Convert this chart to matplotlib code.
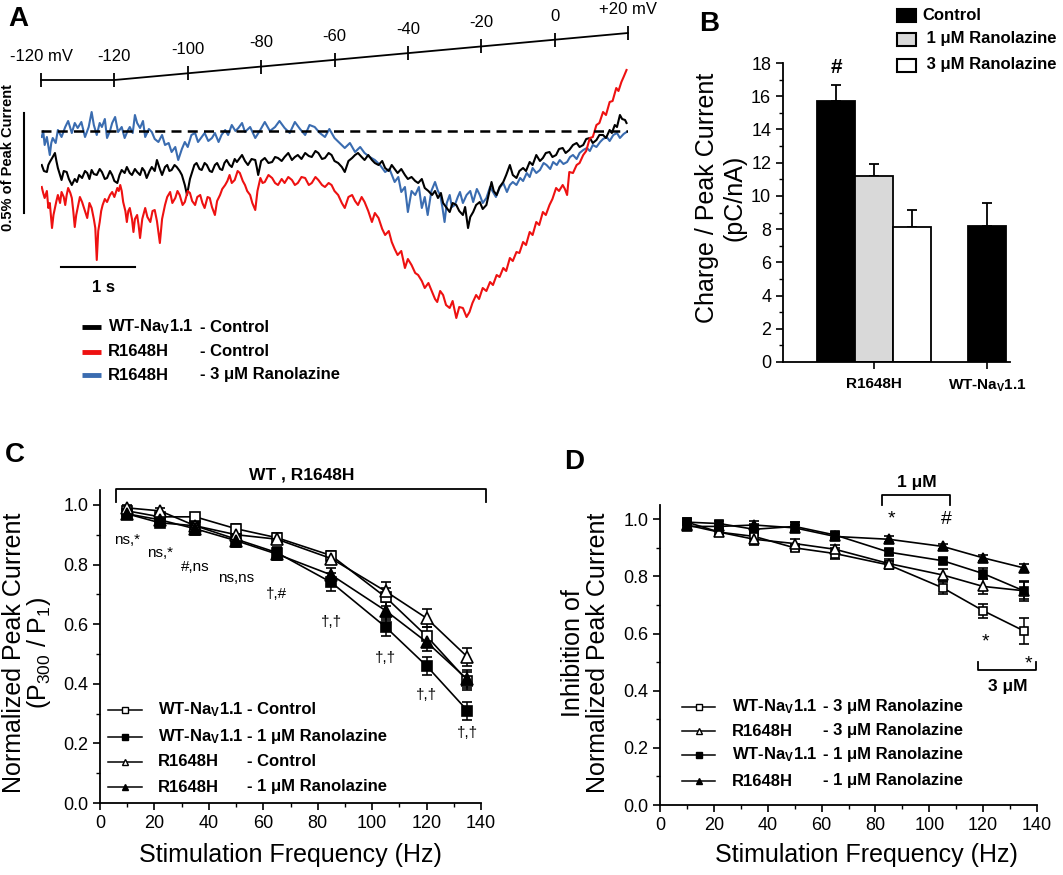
import matplotlib
matplotlib.use("Agg")
import matplotlib.pyplot as plt
from matplotlib.patches import Rectangle
from matplotlib.ticker import MultipleLocator, FormatStrFormatter

plt.rcParams['font.family'] = ['Liberation Sans', 'DejaVu Sans']
plt.rcParams['mathtext.fontset'] = 'custom'
plt.rcParams['mathtext.rm'] = 'Liberation Sans'
plt.rcParams['mathtext.bf'] = 'Liberation Sans:bold'
plt.rcParams['mathtext.it'] = 'Liberation Sans:italic'

# ---------------- data ----------------
# A: ramp protocol (time s, mV)
ramp_t = [0, 1, 2, 3, 4, 5, 6, 7, 8]
ramp_v = [-120, -120, -100, -80, -60, -40, -20, 0, 20]
ramp_lbl = ['-120 mV', '-120', '-100', '-80', '-60', '-40', '-20', '0', '+20 mV']

# A: late current traces (% of peak current)
blue_t = [0.01, 0.03, 0.05, 0.08, 0.12, 0.14, 0.16, 0.2, 0.23, 0.28, 0.33, 0.37, 0.42, 0.46,
          0.5, 0.55, 0.6, 0.65, 0.69, 0.72, 0.76, 0.8, 0.83, 0.87, 0.9, 0.94, 0.97, 1.01,
          1.05, 1.1, 1.14, 1.18, 1.21, 1.25, 1.28, 1.31, 1.35, 1.39, 1.42, 1.47, 1.51, 1.55,
          1.6, 1.65, 1.69, 1.74, 1.78, 1.83, 1.87, 1.92, 1.96, 2.0, 2.05, 2.1, 2.14, 2.19,
          2.23, 2.28, 2.33, 2.37, 2.42, 2.46, 2.51, 2.55, 2.6, 2.65, 2.69, 2.74, 2.78, 2.85,
          2.92, 2.98, 3.05, 3.12, 3.19, 3.25, 3.32, 3.39, 3.46, 3.53, 3.6, 3.66, 3.73, 3.8,
          3.87, 3.93, 4.0, 4.07, 4.14, 4.21, 4.28, 4.35, 4.41, 4.48, 4.55, 4.62, 4.69, 4.75,
          4.82, 4.87, 4.91, 4.96, 5.0, 5.05, 5.1, 5.15, 5.19, 5.23, 5.27, 5.32, 5.37, 5.41,
          5.44, 5.47, 5.5, 5.53, 5.57, 5.6, 5.64, 5.68, 5.71, 5.75, 5.8, 5.85, 5.89, 5.94,
          5.98, 6.02, 6.07, 6.12, 6.16, 6.2, 6.25, 6.3, 6.35, 6.39, 6.43, 6.48, 6.53, 6.57,
          6.62, 6.66, 6.7, 6.75, 6.8, 6.85, 6.89, 6.94, 6.98, 7.03, 7.07, 7.12, 7.17, 7.21,
          7.25, 7.3, 7.34, 7.39, 7.44, 7.48, 7.52, 7.57, 7.62, 7.66, 7.71, 7.75, 7.8, 7.85,
          7.89, 7.94, 7.98]
blue_y = [-0.03, 0.0, -0.07, -0.03, -0.12, -0.06, -0.035, -0.06, 0.005, -0.03, 0.02, 0.05,
          -0.01, 0.04, 0.015, 0.045, -0.03, 0.02, 0.095, 0.03, -0.02, 0.04, 0.02, 0.06,
          -0.035, 0.0, 0.04, 0.07, -0.005, 0.02, -0.035, 0.0, 0.02, -0.01, 0.08, 0.04, 0.015,
          0.05, -0.03, 0.01, -0.005, -0.04, -0.055, -0.02, -0.07, -0.06, -0.105, -0.08,
          -0.145, -0.09, -0.055, -0.08, -0.02, -0.01, -0.055, -0.03, -0.01, -0.05, -0.035,
          -0.01, -0.055, -0.02, 0.005, -0.02, 0.03, 0.0, 0.015, 0.04, -0.005, 0.02, -0.035,
          0.0, 0.045, 0.0, 0.02, 0.05, 0.015, -0.01, 0.045, 0.01, -0.02, 0.03, 0.02, -0.01,
          -0.03, 0.01, -0.035, -0.06, -0.085, -0.06, -0.105, -0.08, -0.11, -0.13, -0.145,
          -0.17, -0.205, -0.19, -0.255, -0.23, -0.305, -0.28, -0.405, -0.3, -0.32, -0.28,
          -0.385, -0.33, -0.42, -0.3, -0.255, -0.3, -0.32, -0.38, -0.455, -0.36, -0.32,
          -0.38, -0.37, -0.33, -0.305, -0.36, -0.32, -0.3, -0.355, -0.29, -0.32, -0.36,
          -0.335, -0.28, -0.305, -0.33, -0.285, -0.26, -0.305, -0.27, -0.255, -0.27, -0.235,
          -0.25, -0.21, -0.23, -0.185, -0.21, -0.195, -0.16, -0.17, -0.19, -0.155, -0.17,
          -0.145, -0.165, -0.155, -0.13, -0.12, -0.14, -0.11, -0.095, -0.085, -0.1, -0.07,
          -0.08, -0.055, -0.04, -0.03, -0.05, -0.02, -0.01, -0.035, -0.015, -0.005]

black_t = [0.01, 0.04, 0.08, 0.1, 0.12, 0.16, 0.19, 0.21, 0.23, 0.26, 0.28, 0.31, 0.35, 0.38,
           0.42, 0.46, 0.49, 0.52, 0.56, 0.6, 0.63, 0.66, 0.69, 0.72, 0.76, 0.8, 0.83, 0.87,
           0.9, 0.94, 0.97, 1.0, 1.04, 1.07, 1.1, 1.14, 1.17, 1.21, 1.24, 1.28, 1.31, 1.35,
           1.38, 1.41, 1.44, 1.48, 1.51, 1.55, 1.58, 1.62, 1.65, 1.69, 1.72, 1.75, 1.78, 1.82,
           1.85, 1.89, 1.92, 1.96, 1.99, 2.03, 2.06, 2.09, 2.12, 2.16, 2.19, 2.23, 2.26, 2.3,
           2.33, 2.37, 2.4, 2.44, 2.47, 2.5, 2.53, 2.57, 2.6, 2.64, 2.67, 2.7, 2.74, 2.78,
           2.82, 2.87, 2.92, 2.94, 2.96, 3.0, 3.05, 3.1, 3.15, 3.19, 3.23, 3.28, 3.32, 3.37,
           3.42, 3.46, 3.5, 3.55, 3.6, 3.65, 3.69, 3.74, 3.78, 3.83, 3.87, 3.92, 3.96, 4.0,
           4.05, 4.1, 4.14, 4.19, 4.24, 4.28, 4.32, 4.37, 4.41, 4.46, 4.51, 4.55, 4.6, 4.65,
           4.69, 4.74, 4.78, 4.82, 4.86, 4.91, 4.96, 5.0, 5.05, 5.1, 5.14, 5.19, 5.23, 5.28,
           5.33, 5.37, 5.41, 5.45, 5.48, 5.52, 5.57, 5.61, 5.66, 5.7, 5.75, 5.78, 5.82, 5.85,
           5.89, 5.93, 5.98, 6.02, 6.07, 6.1, 6.14, 6.17, 6.21, 6.25, 6.3, 6.34, 6.39, 6.43,
           6.48, 6.52, 6.57, 6.61, 6.66, 6.7, 6.75, 6.8, 6.84, 6.88, 6.93, 6.97, 7.02, 7.06,
           7.11, 7.15, 7.2, 7.25, 7.3, 7.34, 7.39, 7.43, 7.48, 7.52, 7.57, 7.61, 7.66, 7.7,
           7.75, 7.78, 7.82, 7.85, 7.89, 7.92, 7.96, 7.98]
black_y = [-0.17, -0.2, -0.205, -0.17, -0.155, -0.13, -0.11, -0.15, -0.185, -0.22, -0.245,
           -0.2, -0.205, -0.24, -0.27, -0.24, -0.255, -0.22, -0.235, -0.2, -0.21, -0.24,
           -0.195, -0.215, -0.22, -0.19, -0.205, -0.24, -0.235, -0.2, -0.22, -0.25, -0.26,
           -0.22, -0.195, -0.21, -0.18, -0.21, -0.22, -0.19, -0.205, -0.22, -0.185, -0.2,
           -0.235, -0.2, -0.18, -0.2, -0.145, -0.19, -0.22, -0.18, -0.17, -0.2, -0.195,
           -0.17, -0.18, -0.2, -0.22, -0.27, -0.32, -0.24, -0.205, -0.17, -0.16, -0.19,
           -0.195, -0.16, -0.17, -0.2, -0.205, -0.17, -0.16, -0.19, -0.195, -0.16, -0.145,
           -0.17, -0.18, -0.14, -0.155, -0.14, -0.12, -0.15, -0.17, -0.14, -0.145, -0.18,
           -0.22, -0.15, -0.135, -0.16, -0.155, -0.13, -0.135, -0.15, -0.13, -0.11, -0.145,
           -0.13, -0.12, -0.14, -0.11, -0.125, -0.13, -0.1, -0.11, -0.14, -0.135, -0.11,
           -0.12, -0.15, -0.16, -0.18, -0.205, -0.15, -0.135, -0.12, -0.11, -0.13, -0.145,
           -0.12, -0.145, -0.16, -0.17, -0.15, -0.185, -0.2, -0.17, -0.19, -0.21, -0.19,
           -0.22, -0.24, -0.23, -0.25, -0.26, -0.24, -0.285, -0.3, -0.32, -0.3, -0.335, -0.31,
           -0.36, -0.38, -0.405, -0.36, -0.37, -0.4, -0.42, -0.38, -0.485, -0.43, -0.405,
           -0.37, -0.355, -0.39, -0.37, -0.32, -0.255, -0.3, -0.32, -0.28, -0.255, -0.22,
           -0.17, -0.22, -0.235, -0.2, -0.185, -0.2, -0.155, -0.17, -0.12, -0.15, -0.135,
           -0.11, -0.105, -0.13, -0.12, -0.09, -0.085, -0.11, -0.095, -0.07, -0.06, -0.08,
           -0.07, -0.04, -0.035, -0.06, -0.045, -0.02, -0.02, -0.035, 0.005, -0.01, 0.03,
           0.02, 0.08, 0.06, 0.055, 0.04]

red_t = [0.01, 0.03, 0.05, 0.08, 0.1, 0.12, 0.15, 0.17, 0.19, 0.21, 0.23, 0.26, 0.28, 0.31,
         0.33, 0.35, 0.37, 0.4, 0.42, 0.44, 0.46, 0.48, 0.5, 0.53, 0.56, 0.6, 0.63, 0.66,
         0.69, 0.72, 0.74, 0.76, 0.78, 0.8, 0.82, 0.84, 0.87, 0.9, 0.94, 0.97, 1.0, 1.04,
         1.06, 1.08, 1.1, 1.12, 1.15, 1.17, 1.19, 1.21, 1.24, 1.26, 1.28, 1.31, 1.33, 1.35,
         1.38, 1.42, 1.45, 1.49, 1.52, 1.55, 1.58, 1.62, 1.65, 1.69, 1.72, 1.76, 1.79, 1.83,
         1.86, 1.89, 1.93, 1.96, 2.0, 2.03, 2.06, 2.1, 2.13, 2.17, 2.2, 2.23, 2.27, 2.3,
         2.33, 2.37, 2.4, 2.44, 2.47, 2.51, 2.54, 2.57, 2.6, 2.64, 2.68, 2.71, 2.75, 2.78,
         2.81, 2.85, 2.88, 2.92, 2.95, 2.99, 3.02, 3.05, 3.1, 3.15, 3.19, 3.23, 3.28, 3.32,
         3.37, 3.42, 3.46, 3.5, 3.55, 3.6, 3.65, 3.69, 3.74, 3.78, 3.83, 3.87, 3.92, 3.96,
         4.0, 4.05, 4.1, 4.14, 4.19, 4.24, 4.28, 4.32, 4.37, 4.41, 4.46, 4.51, 4.55, 4.6,
         4.65, 4.69, 4.74, 4.78, 4.82, 4.86, 4.91, 4.96, 5.0, 5.05, 5.1, 5.14, 5.19, 5.23,
         5.28, 5.33, 5.37, 5.4, 5.44, 5.48, 5.52, 5.57, 5.61, 5.66, 5.7, 5.75, 5.8, 5.84,
         5.88, 5.93, 5.97, 6.02, 6.07, 6.12, 6.16, 6.21, 6.25, 6.3, 6.34, 6.39, 6.43, 6.48,
         6.52, 6.57, 6.61, 6.66, 6.7, 6.75, 6.79, 6.84, 6.88, 6.93, 6.97, 7.02, 7.06, 7.11,
         7.14, 7.17, 7.2, 7.25, 7.3, 7.34, 7.39, 7.43, 7.48, 7.52, 7.57, 7.61, 7.66, 7.7,
         7.75, 7.79, 7.84, 7.87, 7.91, 7.94, 7.98]
red_y = [-0.28, -0.31, -0.335, -0.3, -0.385, -0.36, -0.485, -0.42, -0.385, -0.35, -0.32,
         -0.36, -0.305, -0.33, -0.37, -0.32, -0.285, -0.31, -0.335, -0.4, -0.48, -0.42,
         -0.385, -0.33, -0.355, -0.4, -0.435, -0.36, -0.385, -0.44, -0.485, -0.645, -0.5,
         -0.455, -0.4, -0.37, -0.34, -0.355, -0.32, -0.305, -0.33, -0.285, -0.3, -0.27,
         -0.3, -0.355, -0.4, -0.455, -0.4, -0.385, -0.44, -0.505, -0.44, -0.42, -0.47,
         -0.535, -0.44, -0.385, -0.43, -0.455, -0.4, -0.395, -0.45, -0.56, -0.44, -0.37,
         -0.33, -0.305, -0.36, -0.335, -0.3, -0.32, -0.37, -0.355, -0.3, -0.31, -0.35,
         -0.37, -0.33, -0.32, -0.36, -0.385, -0.33, -0.335, -0.38, -0.42, -0.35, -0.32,
         -0.29, -0.27, -0.25, -0.22, -0.26, -0.245, -0.2, -0.21, -0.25, -0.27, -0.3, -0.32,
         -0.36, -0.395, -0.3, -0.235, -0.26, -0.255, -0.22, -0.235, -0.26, -0.27, -0.24,
         -0.26, -0.23, -0.245, -0.27, -0.26, -0.23, -0.235, -0.27, -0.26, -0.23, -0.245,
         -0.27, -0.28, -0.26, -0.27, -0.3, -0.32, -0.36, -0.385, -0.33, -0.32, -0.35, -0.37,
         -0.33, -0.355, -0.4, -0.455, -0.41, -0.435, -0.49, -0.52, -0.5, -0.555, -0.59,
         -0.62, -0.6, -0.685, -0.64, -0.67, -0.71, -0.72, -0.75, -0.785, -0.76, -0.805,
         -0.84, -0.855, -0.8, -0.82, -0.87, -0.885, -0.85, -0.935, -0.88, -0.885, -0.93,
         -0.905, -0.86, -0.82, -0.84, -0.785, -0.8, -0.755, -0.77, -0.72, -0.73, -0.685,
         -0.7, -0.635, -0.65, -0.605, -0.61, -0.555, -0.57, -0.505, -0.52, -0.455, -0.47,
         -0.405, -0.42, -0.37, -0.34, -0.285, -0.3, -0.27, -0.29, -0.32, -0.205, -0.21,
         -0.17, -0.16, -0.12, -0.1, -0.035, -0.03, 0.03, 0.04, 0.095, 0.08, 0.145, 0.15,
         0.215, 0.2, 0.245, 0.27, 0.305]

# B: charge / peak current
b_pos = [1, 2, 3, 5]
b_val = [15.7, 11.2, 8.15, 8.2]
b_err = [1.0, 0.7, 1.0, 1.35]
b_col = ['black', '#d9d9d9', 'white', 'black']

# C and D: use-dependent block
freq = [10, 22, 35, 50, 65, 85, 105, 120, 135]
c_wt_ctrl = [0.98, 0.96, 0.96, 0.92, 0.89, 0.83, 0.69, 0.56, 0.41]
c_wt_ctrl_e = [0.01, 0.01, 0.01, 0.015, 0.015, 0.015, 0.03, 0.03, 0.03]
c_wt_1 = [0.97, 0.94, 0.93, 0.885, 0.84, 0.74, 0.59, 0.46, 0.31]
c_wt_1_e = [0.01, 0.01, 0.02, 0.02, 0.02, 0.03, 0.03, 0.03, 0.03]
c_r_ctrl = [0.99, 0.98, 0.93, 0.90, 0.885, 0.82, 0.71, 0.62, 0.49]
c_r_ctrl_e = [0.01, 0.01, 0.01, 0.015, 0.015, 0.015, 0.03, 0.03, 0.03]
c_r_1 = [0.97, 0.95, 0.92, 0.88, 0.835, 0.765, 0.645, 0.54, 0.415]
c_r_1_e = [0.01, 0.01, 0.02, 0.02, 0.02, 0.025, 0.03, 0.03, 0.03]
c_sig = ['ns,*', 'ns,*', '#,ns', 'ns,ns', '†,#', '†,†', '†,†', '†,†', '†,†']
c_sig_y = [0.883, 0.839, 0.792, 0.755, 0.701, 0.607, 0.487, 0.362, 0.235]

d_wt_3 = [0.99, 0.955, 0.94, 0.90, 0.88, 0.84, 0.76, 0.68, 0.61]
d_wt_3_e = [0.01, 0.01, 0.02, 0.01, 0.02, 0.015, 0.02, 0.025, 0.045]
d_r_3 = [0.98, 0.955, 0.93, 0.915, 0.895, 0.845, 0.805, 0.765, 0.75]
d_r_3_e = [0.01, 0.01, 0.02, 0.015, 0.015, 0.015, 0.02, 0.025, 0.03]
d_wt_1 = [0.99, 0.985, 0.965, 0.975, 0.945, 0.885, 0.855, 0.81, 0.75]
d_wt_1_e = [0.01, 0.01, 0.02, 0.015, 0.01, 0.01, 0.01, 0.02, 0.035]
d_r_1 = [0.975, 0.975, 0.98, 0.97, 0.94, 0.93, 0.905, 0.865, 0.83]
d_r_1_e = [0.01, 0.01, 0.015, 0.01, 0.01, 0.01, 0.01, 0.01, 0.015]

NAV = r'WT-Na$_\mathbf{V}$1.1'
RED = '#ee1111'
BLUE = '#3a6cb0'

# ---------------- figure ----------------
W, H = 1063, 875
fig = plt.figure(figsize=(W / 100, H / 100), dpi=100)


def px_axes(l, t, r, b):
    return fig.add_axes([l / W, 1 - b / H, (r - l) / W, (b - t) / H])


def style_axis(ax):
    for s in ['top', 'right']:
        ax.spines[s].set_visible(False)
    for s in ['left', 'bottom']:
        ax.spines[s].set_linewidth(1.3)
    ax.tick_params(which='major', direction='out', length=5, width=1.2, labelsize=13)
    ax.tick_params(which='minor', direction='out', length=3, width=1.0)


# ---- panel A ----
axR = px_axes(41, 33, 628, 80)
axR.set_xlim(0, 8)
axR.set_ylim(-120, 20)
axR.axis('off')
axR.plot(ramp_t, ramp_v, color='black', lw=1.3, clip_on=False)
axR.plot(ramp_t, ramp_v, ls='none', marker='|', ms=10, mew=1.3, color='black', clip_on=False)
for t, v, s in zip(ramp_t, ramp_v, ramp_lbl):
    axR.annotate(s, (t, v), xytext=(0, 17), textcoords='offset points',
                 ha='center', va='center', fontsize=12)

axA = px_axes(41, 60, 628, 330)
axA.set_xlim(0, 8)
axA.set_ylim(-0.995, 0.355)
axA.axis('off')
axA.plot(blue_t, blue_y, color=BLUE, lw=1.5)
axA.plot(black_t, black_y, color='black', lw=1.5)
axA.plot(red_t, red_y, color=RED, lw=1.5)
axA.plot([0, 8], [0, 0], color='black', lw=1.8, ls=(0, (4, 2.5)), zorder=5)
# scale bars
axA.plot([-0.232, -0.232], [0.09, -0.41], color='black', lw=1.5, clip_on=False)
axA.plot([0.27, 1.28], [-0.68, -0.68], color='black', lw=1.5, clip_on=False)

# ---- panel B ----
axB = px_axes(783, 63, 1010, 362)
axB.bar(b_pos, b_val, width=1.0, color=b_col, edgecolor='black', lw=1.3, zorder=2)
axB.errorbar(b_pos, b_val, yerr=[[0] * 4, b_err], fmt='none', ecolor='black',
             elinewidth=1.3, capsize=3.5, capthick=1.3, zorder=1)
axB.set_xlim(-0.4, 5.6)
axB.set_ylim(0, 18)
style_axis(axB)
axB.yaxis.set_major_locator(MultipleLocator(2))
axB.yaxis.set_minor_locator(MultipleLocator(1))
axB.set_xticks([2, 5])
axB.set_xticklabels(['R1648H', NAV], fontsize=11, fontweight='bold')
axB.tick_params(axis='x', pad=6)
axB.text(b_pos[0], 17.7, '#', ha='center', va='center', fontsize=15, fontweight='bold')

# ---- panel C ----
axC = px_axes(100, 490, 481, 803)
c_series = [(c_wt_ctrl, c_wt_ctrl_e, 's', 'white', 7),
            (c_wt_1, c_wt_1_e, 's', 'black', 7),
            (c_r_ctrl, c_r_ctrl_e, '^', 'white', 8),
            (c_r_1, c_r_1_e, '^', 'black', 8)]
for vals, errs, mk, fc, ms in c_series:
    axC.errorbar(freq, vals, yerr=errs, color='black', lw=1.2, marker=mk, ms=ms,
                 mfc=fc, mec='black', mew=1.2, capsize=3.5, elinewidth=1.1)
axC.set_xlim(0, 140)
axC.set_ylim(0, 1.05)
style_axis(axC)
axC.xaxis.set_major_locator(MultipleLocator(20))
axC.xaxis.set_minor_locator(MultipleLocator(10))
axC.yaxis.set_major_locator(MultipleLocator(0.2))
axC.yaxis.set_minor_locator(MultipleLocator(0.1))
axC.yaxis.set_major_formatter(FormatStrFormatter('%.1f'))
for f, s, y in zip(freq, c_sig, c_sig_y):
    axC.text(f, y, s, ha='center', va='center', fontsize=11)
axC.plot([5.9, 5.9, 141.8, 141.8], [1.01, 1.054, 1.054, 1.01], color='black', lw=1.3,
         clip_on=False)
axC.text(74, 1.10, 'WT , R1648H', ha='center', va='center', fontsize=12.5,
         fontweight='bold')

# ---- panel D ----
axD = px_axes(660, 505, 1037, 805)
d_series = [(d_wt_3, d_wt_3_e, 's', 'white', 6),
            (d_r_3, d_r_3_e, '^', 'white', 6.5),
            (d_wt_1, d_wt_1_e, 's', 'black', 6),
            (d_r_1, d_r_1_e, '^', 'black', 6.5)]
for vals, errs, mk, fc, ms in d_series:
    axD.errorbar(freq, vals, yerr=errs, color='black', lw=1.2, marker=mk, ms=ms,
                 mfc=fc, mec='black', mew=1.2, capsize=3.5, elinewidth=1.1)
axD.set_xlim(0, 140)
axD.set_ylim(0, 1.05)
style_axis(axD)
axD.xaxis.set_major_locator(MultipleLocator(20))
axD.xaxis.set_minor_locator(MultipleLocator(10))
axD.yaxis.set_major_locator(MultipleLocator(0.2))
axD.yaxis.set_minor_locator(MultipleLocator(0.1))
axD.yaxis.set_major_formatter(FormatStrFormatter('%.1f'))
axD.plot([82.6, 82.6, 107.8, 107.8], [1.05, 1.085, 1.085, 1.05], color='black', lw=1.3,
         clip_on=False)
axD.text(95.5, 1.13, '1 μM', ha='center', va='center', fontsize=12.5, fontweight='bold')
axD.text(86, 1.0, '*', ha='center', va='center', fontsize=14)
axD.text(106.3, 0.998, '#', ha='center', va='center', fontsize=14)
axD.text(121, 0.57, '*', ha='center', va='center', fontsize=14)
axD.text(136.8, 0.495, '*', ha='center', va='center', fontsize=14)
axD.plot([118.2, 118.2, 139.8, 139.8], [0.50, 0.4725, 0.4725, 0.50], color='black', lw=1.3,
         clip_on=False)
axD.text(129, 0.413, '3 μM', ha='center', va='center', fontsize=12.5, fontweight='bold')

# ---- overlay in pixel coordinates: letters, labels, legends ----
ov = fig.add_axes([0, 0, 1, 1], zorder=10)
ov.set_xlim(0, W)
ov.set_ylim(H, 0)
ov.axis('off')
ov.patch.set_alpha(0)

for s, x, y in [('A', 18, 19), ('B', 709, 24), ('C', 15, 455), ('D', 574, 462)]:
    ov.text(x, y, s, ha='center', va='center', fontsize=20, fontweight='bold')

ov.text(8, 158, '0.5% of Peak Current', rotation=90, ha='center', va='center',
        fontsize=10.5, fontweight='bold')
ov.text(103, 287, '1 s', ha='center', va='center', fontsize=12, fontweight='bold')

# legend A
for y, c, p1, p2 in zip([327, 352, 375], ['black', RED, BLUE],
                        [NAV, 'R1648H', 'R1648H'],
                        ['- Control', '- Control', '- 3 μM Ranolazine']):
    ov.plot([82, 101], [y, y], color=c, lw=3.5, solid_capstyle='butt')
    ov.text(108, y, p1, ha='left', va='center', fontsize=12, fontweight='bold')
    ov.text(200, y, p2, ha='left', va='center', fontsize=12, fontweight='bold')

# legend B
for y, fc, s in zip([15, 39, 65], ['black', '#d9d9d9', 'white'],
                    ['Control', ' 1 μM Ranolazine', ' 3 μM Ranolazine']):
    ov.add_patch(Rectangle((897, y - 6.5), 19, 13, facecolor=fc, edgecolor='black', lw=1.5))
    ov.text(922, y, s, ha='left', va='center', fontsize=12, fontweight='bold')

ov.text(707, 198, 'Charge / Peak Current', rotation=90, ha='center', va='center', fontsize=18)
ov.text(735, 198, '(pC/nA)', rotation=90, ha='center', va='center', fontsize=18)

# legend C
for y, (vals, errs, mk, fc, ms), p1, p2 in zip(
        [710, 737, 762, 787], c_series,
        [NAV, NAV, 'R1648H', 'R1648H'],
        ['- Control', '- 1 μM Ranolazine', '- Control', '- 1 μM Ranolazine']):
    ov.plot([108, 142], [y, y], color='black', lw=1.1)
    ov.plot([125], [y], marker=mk, ms=4.5, mfc=fc, mec='black', mew=1.0)
    ov.text(158, y, p1, ha='left', va='center', fontsize=12, fontweight='bold')
    ov.text(247, y, p2, ha='left', va='center', fontsize=12, fontweight='bold')

ov.text(14, 653, 'Normalized Peak Current', rotation=90, ha='center', va='center', fontsize=18)
ov.text(39, 653, r'(P$_{300}$ / P$_1$)', rotation=90, ha='center', va='center', fontsize=18)
ov.text(290, 855, 'Stimulation Frequency (Hz)', ha='center', va='center', fontsize=18)

# legend D
for y, (vals, errs, mk, fc, ms), p1, p2 in zip(
        [707, 731, 755, 781], d_series,
        [NAV, 'R1648H', NAV, 'R1648H'],
        ['- 3 μM Ranolazine', '- 3 μM Ranolazine', '- 1 μM Ranolazine',
         '- 1 μM Ranolazine']):
    ov.plot([682, 715], [y, y], color='black', lw=1.1)
    ov.plot([698.5], [y], marker=mk, ms=4.5, mfc=fc, mec='black', mew=1.0)
    ov.text(732, y, p1, ha='left', va='center', fontsize=12, fontweight='bold')
    ov.text(823, y, p2, ha='left', va='center', fontsize=12, fontweight='bold')

ov.text(573, 653, 'Inhibition of', rotation=90, ha='center', va='center', fontsize=18)
ov.text(598, 653, 'Normalized Peak Current', rotation=90, ha='center', va='center',
        fontsize=18)
ov.text(866, 855, 'Stimulation Frequency (Hz)', ha='center', va='center', fontsize=18)

fig.savefig('out.png', dpi=100)
